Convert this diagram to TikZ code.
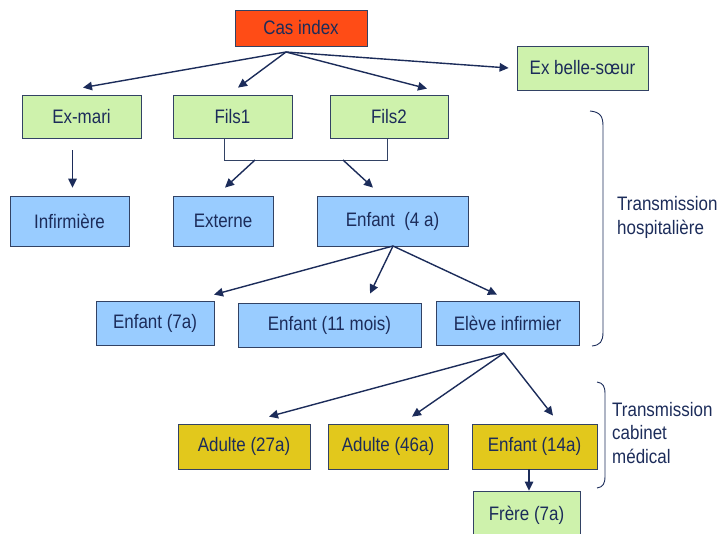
\documentclass[tikz,border=0pt]{standalone}
\usepackage{fontspec}
\setmainfont{Liberation Sans}[FakeStretch=0.87]
\usetikzlibrary{arrows.meta,calc}

\definecolor{casred}{RGB}{255,76,22}
\definecolor{famgreen}{RGB}{206,242,172}
\definecolor{hosblue}{RGB}{153,204,255}
\definecolor{cabgold}{RGB}{226,200,28}
\definecolor{boxline}{RGB}{50,66,100}
\definecolor{navy}{RGB}{28,44,90}

\begin{document}
\begin{tikzpicture}[x=1pt,y=1pt,yscale=-1,
  box/.style={draw=boxline,line width=0.8pt,rectangle,inner sep=0pt,text=navy,
    font=\fontsize{19.5}{22}\selectfont,minimum height=#1},
  box/.default=45,
  arr/.style={draw=navy,line width=1.4pt,-{Triangle[length=9pt,width=8.5pt]}},
  filsjoin/.style={draw=boxline,line width=0.7pt},
  brace/.style={draw=navy,line width=0.9pt},
  note/.style={text=navy,font=\fontsize{19.5}{24}\selectfont,align=left,inner sep=0pt,anchor=north west}]

\useasboundingbox (0,0) rectangle (722,533);

\node [box=36,fill=casred,minimum width=132] (casindex) at (301,28) {Cas index};
\node [box=44,fill=famgreen,minimum width=131] (exbelle) at (582.5,68) {Ex belle-sœur};
\node [box=43,fill=famgreen,minimum width=119] (exmari) at (81.5,116.5) {Ex-mari};
\node [box=43,fill=famgreen,minimum width=119] (fils1) at (232.5,116.5) {Fils1};
\node [box=43,fill=famgreen,minimum width=118] (fils2) at (389,116.5) {Fils2};

\node [box=50,fill=hosblue,minimum width=119] (infirmiere) at (69.5,221) {Infirmière};
\node [box=50,fill=hosblue,minimum width=100] (externe) at (223,221) {Externe};
\node [box=50,fill=hosblue,minimum width=151] (enfant4) at (392.5,221) {Enfant\ \ (4 a)};
\node [box=44,fill=hosblue,minimum width=118] (enfant7) at (155,323) {Enfant (7a)};
\node [box=44,fill=hosblue,minimum width=183] (enfant11) at (329.5,325) {Enfant (11 mois)};
\node [box=44,fill=hosblue,minimum width=143] (eleve) at (507.5,323) {Elève infirmier};

\node [box=45,fill=cabgold,minimum width=132] (adulte27) at (244,446.5) {Adulte (27a)};
\node [box=45,fill=cabgold,minimum width=120] (adulte46) at (388,446.5) {Adulte (46a)};
\node [box=45,fill=cabgold,minimum width=125] (enfant14) at (534.5,446.5) {Enfant (14a)};
\node [box=48,fill=famgreen,minimum width=107] (frere) at (526.5,515) {Frère (7a)};

\coordinate (casfoot) at (286,52);
\coordinate (jl) at (224,160);
\coordinate (jr) at (387,160);
\coordinate (j1) at (255,160);
\coordinate (j2) at (343,160);
\coordinate (e4foot) at (393,246);
\coordinate (elfoot) at (504,353);

\draw [arr] (casfoot) -- ($(exmari.north)+(1.5,-7)$);
\draw [arr] (casfoot) -- ($(fils1.north)+(5.5,-7)$);
\draw [arr] (casfoot) -- ($(fils2.north)+(38,-6)$);
\draw [arr] (casfoot) -- ($(exbelle.west)+(-8,0)$);

\draw [arr] ($(exmari.south)+(-9,12)$) -- ($(infirmiere.north)+(3,-8)$);

\draw [filsjoin] (fils1.south -| jl) -- (jl) -- (jr) -- (fils2.south -| jr);
\draw [arr] (j1) -- ($(externe.north)+(2,-8)$);
\draw [arr] (j2) -- ($(enfant4.north)+(-19.5,-8)$);

\draw [arr] (e4foot) -- ($(enfant7.north)+(59,-6)$);
\draw [arr] (e4foot) -- ($(enfant11.north)+(40.5,-9)$);
\draw [arr] (e4foot) -- ($(eleve.north)+(-10.5,-6)$);

\draw [arr] (elfoot) -- ($(adulte27.north)+(25,-7)$);
\draw [arr] (elfoot) -- ($(adulte46.north)+(24,-7)$);
\draw [arr] (elfoot) -- ($(enfant14.north)+(18.5,-8)$);

\draw [arr] ($(enfant14.south)+(-5.5,0)$) -- ($(frere.north)+(2.5,0)$);

\draw [brace] (590,111) .. controls (600,112) and (603,116) .. (603,126) -- (603,332) .. controls (603,342) and (600,345) .. (592,346);
\draw [brace] (597,382) .. controls (603,383) and (605,386) .. (605,394) -- (605,476) .. controls (605,484) and (603,487) .. (597,488);

\node [note] (hosp) at (617,196) {Transmission\\hospitalière};
\node [note,font=\fontsize{19.5}{23.5}\selectfont] (cab) at (612,402) {Transmission\\cabinet\\médical};

\end{tikzpicture}
\end{document}
